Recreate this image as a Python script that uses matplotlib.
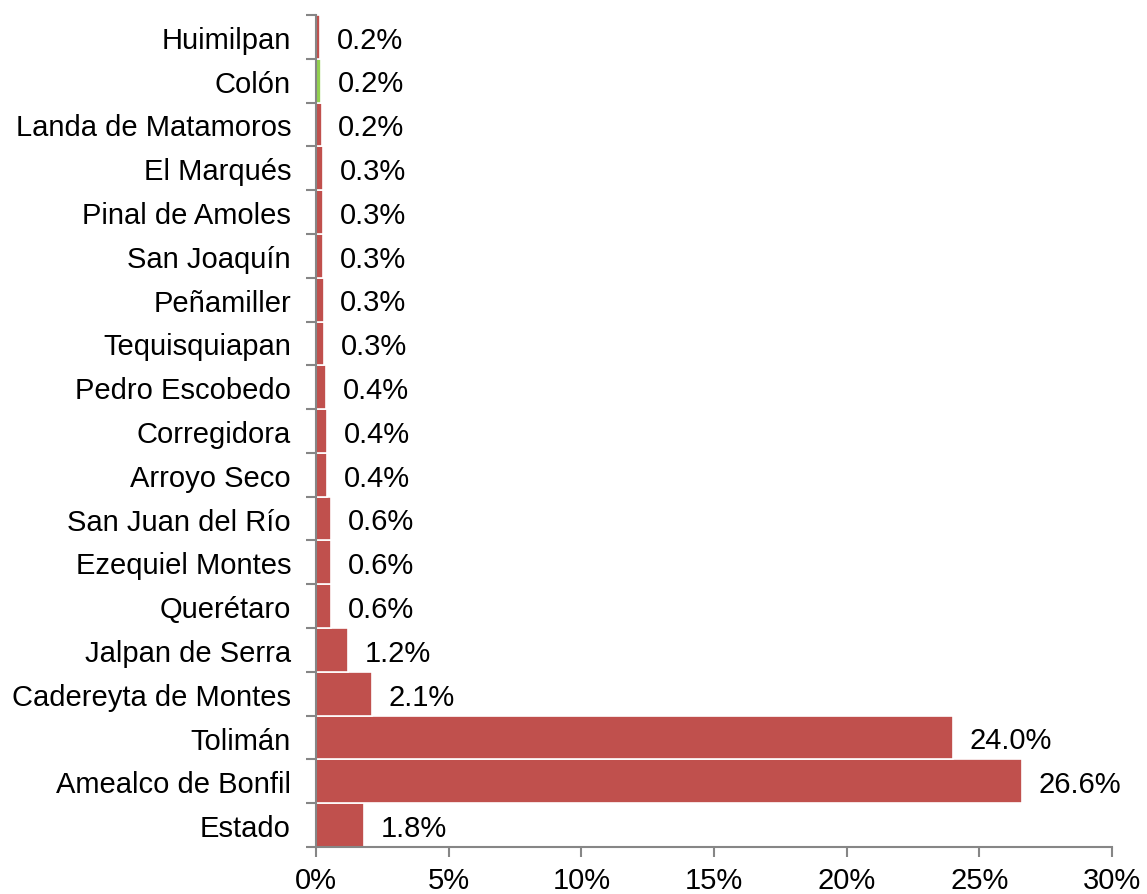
import matplotlib.pyplot as plt
import numpy as np

plt.rcParams['font.family'] = ['Liberation Sans', 'DejaVu Sans']

municipios = ["Estado", "Amealco de Bonfil", "Tolimán", "Cadereyta de Montes",
              "Jalpan de Serra", "Querétaro", "Ezequiel Montes", "San Juan del Río",
              "Arroyo Seco", "Corregidora", "Pedro Escobedo", "Tequisquiapan",
              "Peñamiller", "San Joaquín", "Pinal de Amoles", "El Marqués",
              "Landa de Matamoros", "Colón", "Huimilpan"]
valores = [1.8, 26.6, 24.0, 2.1, 1.2, 0.58, 0.58, 0.57, 0.43, 0.42, 0.37,
           0.32, 0.29, 0.28, 0.27, 0.27, 0.21, 0.18, 0.16]
etiquetas = ["1.8%", "26.6%", "24.0%", "2.1%", "1.2%", "0.6%", "0.6%", "0.6%",
             "0.4%", "0.4%", "0.4%", "0.3%", "0.3%", "0.3%", "0.3%", "0.3%",
             "0.2%", "0.2%", "0.2%"]

rojo = "#C0504D"
verde = "#92D050"
colores = [verde if m == "Colón" else rojo for m in municipios]

fig = plt.figure(figsize=(11.47, 8.95), dpi=100)
ax = fig.add_axes([316/1147, 47/895, 796/1147, 832/895])

y = np.arange(len(municipios))
ax.barh(y, valores, height=1.0, color=colores, edgecolor="white", linewidth=1.2)

for yi, v, t in zip(y, valores, etiquetas):
    ax.annotate(t, (v, yi), xytext=(12, -2), textcoords="offset points",
                va="center", ha="left", fontsize=21)

ax.set_xlim(0, 30)
ax.set_ylim(-0.5, len(municipios) - 0.5)
ax.set_xticks(np.arange(0, 31, 5))
ax.set_xticklabels([f"{x}%" for x in range(0, 31, 5)], fontsize=21)
ax.set_yticks(y)
ax.set_yticklabels(municipios, fontsize=21)
ax.set_yticks(np.arange(-0.5, len(municipios), 1), minor=True)

ax.tick_params(axis="y", which="major", length=0, pad=18)
ax.tick_params(axis="y", which="minor", length=7, color="#868686", width=1.5)
ax.tick_params(axis="x", length=7, color="#868686", width=1.5, pad=7)

for s in ["top", "right"]:
    ax.spines[s].set_visible(False)
for s in ["left", "bottom"]:
    ax.spines[s].set_color("#868686")
    ax.spines[s].set_linewidth(1.5)

fig.savefig("out.png", dpi=100)
